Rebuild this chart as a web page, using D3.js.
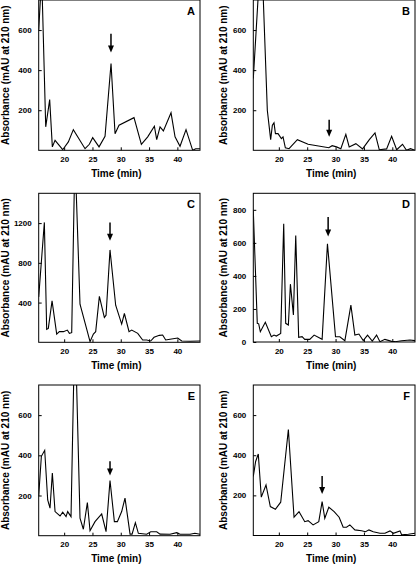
<!DOCTYPE html>
<html><head><meta charset="utf-8">
<script src="https://cdn.jsdelivr.net/npm/d3@7"></script>
<style>
html,body{margin:0;padding:0;background:#fff;}
svg{display:block;font-family:"Liberation Sans",Arial,sans-serif;font-weight:bold;}
</style></head>
<body>
<svg id="chart" width="416" height="564"></svg>
<script>
const xDomain = [15.5, 44];
const xTicks = [20, 25, 30, 35, 40];
const panelLetters = ["A", "B", "C", "D", "E", "F"];
const yMax = [750, 750, 1500, 900, 750, 750];
const yTicksAB = [200, 400, 600];
const yTicksC = [400, 800, 1200];
const yTicksD = [0, 200, 400, 600, 800];
const yTicksEF = [200, 400, 600];

const timeA = [15.5, 16.03, 16.74, 17.44, 17.91, 18.39, 19.74, 20.74, 21.62, 23.69, 24.45, 25.04, 26.16, 27.22, 28.28, 28.99, 29.69, 32.34, 33.64, 34.76, 35.94, 36.35, 36.94, 37.53, 38.88, 39.59, 40.47, 41.53, 42.71, 43.24, 44];
const absA  = [600, 870, 117, 253, 17, 50, 3, 42, 103, 8, 30, 63, 17, 70, 433, 83, 125, 163, 30, 67, 120, 53, 117, 97, 187, 67, 20, 103, 0, 8, 8];

const timeB = [15.5, 16.91, 17.97, 18.56, 18.86, 19.15, 19.4, 19.86, 20.45, 20.74, 21.15, 21.8, 23.27, 25.16, 28.81, 29.4, 30.16, 30.93, 31.81, 32.4, 33.58, 34.76, 35.95, 36.95, 37.7, 39.0, 39.88, 40.77, 41.8, 42.5, 43.2, 44];
const absB  = [358, 1030, 200, 53, 125, 137, 83, 83, 58, 67, 12, 8, 53, 30, 13, 23, 17, 8, 80, 17, 33, 7, 53, 87, 3, 7, 70, 3, 30, 0, 8, 0];

const timeC = [15.5, 16.5, 16.91, 17.2, 17.86, 18.68, 19.15, 19.86, 20.56, 20.92, 21.33, 21.9, 22.8, 24.1, 24.57, 25.16, 25.57, 26.22, 27.1, 27.4, 28.1, 29.1, 30.16, 30.64, 31.46, 31.93, 33.0, 33.87, 34.58, 35.29, 35.88, 36.82, 37.4, 37.94, 38.7, 40.06, 40.77, 42.24, 44];
const absC  = [457, 1207, 130, 140, 417, 83, 107, 107, 123, 90, 97, 1900, 383, 107, 7, 83, 107, 463, 250, 273, 930, 373, 183, 290, 107, 123, 90, 23, 23, 13, 50, 70, 73, 23, 30, 43, 13, 10, 13];

const timeD = [15.5, 16.2, 16.45, 16.74, 17.62, 18.68, 19.15, 19.56, 20.33, 20.86, 21.21, 21.68, 22.04, 22.57, 22.98, 23.5, 24.1, 24.57, 25.45, 26.22, 27.63, 28.57, 29.99, 30.75, 31.64, 32.7, 33.4, 34.11, 34.88, 35.64, 36.47, 37.23, 37.82, 38.7, 39.88, 40.5, 41.65, 43.1, 44];
const absD  = [796, 113, 110, 62, 119, 32, 42, 36, 52, 716, 113, 103, 350, 163, 645, 28, 32, 16, 16, 42, 16, 595, 32, 32, 8, 223, 42, 48, 8, 42, 6, 42, 2, 16, 4, 2, 8, 12, 8];

const timeE = [15.5, 15.97, 16.56, 17.09, 17.5, 17.91, 18.39, 19.27, 19.74, 20.33, 20.62, 21.21, 21.9, 22.8, 23.39, 24.1, 24.57, 25.45, 26.63, 27.4, 28.1, 28.87, 29.4, 30.16, 30.75, 31.64, 32.0, 32.58, 33.11, 34.58, 35.29, 36.35, 36.94, 38.7, 39.88, 40.47, 42.24, 43.1, 44];
const absE  = [198, 395, 425, 178, 137, 312, 120, 98, 117, 95, 120, 95, 1080, 87, 32, 165, 25, 70, 108, 20, 275, 70, 70, 120, 187, 8, 8, 65, 12, 7, 20, 20, 8, 7, 15, 7, 7, 12, 7];

const timeF = [15.5, 15.91, 16.38, 16.91, 17.74, 18.5, 19.39, 20.33, 21.68, 22.68, 23.56, 24.57, 25.16, 26.04, 27.04, 27.63, 28.1, 28.81, 29.75, 30.63, 31.34, 31.93, 32.52, 33.4, 34.58, 35.29, 35.88, 36.64, 37.82, 38.7, 39.59, 40.18, 41.36, 41.65, 42.83, 44];
const absF  = [294, 369, 406, 191, 252, 144, 131, 166, 528, 91, 119, 69, 74, 53, 69, 169, 86, 141, 119, 91, 41, 41, 53, 28, 24, 19, 28, 19, 11, 11, 23, 11, 23, 3, 6, 11];

// arrows (data units): time, tip absorbance, tail absorbance
const arrowTime = [28.27, 28.87, 28.1, 28.69, 28.1, 27.63];
const arrowTip  = [488, 67, 1023, 639, 300, 207];
const arrowTail = [581, 152, 1207, 756, 370, 297];

const times = [timeA, timeB, timeC, timeD, timeE, timeF];
const absorb = [absA, absB, absC, absD, absE, absF];
const yTickSets = [yTicksAB, yTicksAB, yTicksC, yTicksD, yTicksEF, yTicksEF];

// layout
const layout = [
  {l: 38.7, r: 200, t: 0, b: 150.3, tx: 9},
  {l: 253.3, r: 415, t: 0, b: 150.3, tx: 227},
  {l: 38.7, r: 200, t: 193.3, b: 342.3, tx: 9},
  {l: 253.3, r: 415, t: 193.3, b: 342, tx: 227},
  {l: 38.7, r: 200, t: 385, b: 535.7, tx: 9},
  {l: 253.3, r: 415, t: 385, b: 535.5, tx: 227}
];

const svg = d3.select("#chart");
const defs = svg.append("defs");

layout.forEach((L, i) => {
  const x = d3.scaleLinear().domain(xDomain).range([L.l, L.r]);
  const y = d3.scaleLinear().domain([0, yMax[i]]).range([L.b, L.t]);
  const g = svg.append("g");

  defs.append("clipPath").attr("id", "clip" + i)
    .append("rect").attr("x", L.l).attr("y", L.t).attr("width", L.r - L.l).attr("height", L.b - L.t);

  // x axis
  const xa = g.append("g").attr("transform", `translate(0,${L.b})`)
    .call(d3.axisBottom(x).tickValues(xTicks).tickFormat(d3.format("d")).tickSizeInner(-3).tickSizeOuter(0).tickPadding(6));
  xa.select(".domain").remove();
  xa.selectAll("text").attr("font-size", 8).attr("font-weight", "bold").attr("font-family", "Liberation Sans, Arial, sans-serif").attr("fill", "#000");
  xa.selectAll("line").attr("stroke", "#000");

  // y axis
  const ya = g.append("g").attr("transform", `translate(${L.l},0)`)
    .call(d3.axisLeft(y).tickValues(yTickSets[i]).tickFormat(d3.format("d")).tickSizeInner(-3).tickSizeOuter(0).tickPadding(7));
  ya.select(".domain").remove();
  ya.selectAll("text").attr("font-size", 8).attr("font-weight", "bold").attr("font-family", "Liberation Sans, Arial, sans-serif").attr("fill", "#000");
  ya.selectAll("line").attr("stroke", "#000");

  // data line
  const pts = times[i].map((t, k) => [t, absorb[i][k]]);
  g.append("path").datum(pts)
    .attr("clip-path", `url(#clip${i})`)
    .attr("fill", "none").attr("stroke", "#000").attr("stroke-width", 1.1)
    .attr("stroke-linejoin", "miter")
    .attr("d", d3.line().x(d => x(d[0])).y(d => y(d[1])));

  // frame
  g.append("rect").attr("x", L.l).attr("y", L.t).attr("width", L.r - L.l).attr("height", L.b - L.t)
    .attr("fill", "none").attr("stroke", "#000").attr("stroke-width", 1);

  // arrow
  const ax = x(arrowTime[i]), ay1 = y(arrowTail[i]), ay2 = y(arrowTip[i]);
  const hl = 7, hw = 3;
  g.append("line").attr("x1", ax).attr("x2", ax).attr("y1", ay1).attr("y2", ay2 - hl + 1)
    .attr("stroke", "#000").attr("stroke-width", 1.5);
  g.append("path").attr("d", `M${ax - hw},${ay2 - hl} L${ax + hw},${ay2 - hl} L${ax},${ay2} Z`).attr("fill", "#000");

  // letter
  g.append("text").attr("x", L.r - 5).attr("y", L.t + 14.5).attr("text-anchor", "end")
    .attr("font-size", 11).attr("font-weight", "bold").text(panelLetters[i]);

  // axis titles
  g.append("text").attr("x", (L.l + L.r) / 2 - 3).attr("y", L.b + 26.5).attr("text-anchor", "middle")
    .attr("font-size", 10).attr("font-weight", "bold").text("Time (min)");
  g.append("text").attr("transform", `translate(${L.tx},${(L.t + L.b) / 2}) rotate(-90)`)
    .attr("text-anchor", "middle").attr("font-size", 10).attr("font-weight", "bold")
    .text("Absorbance (mAU at 210 nm)");
});
</script>
</body></html>
